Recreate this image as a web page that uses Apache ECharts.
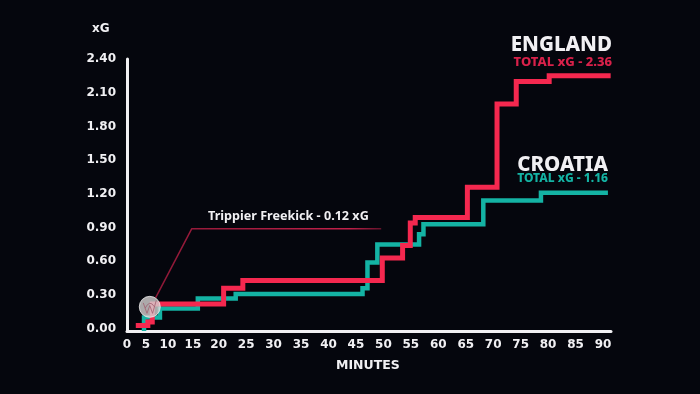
<!DOCTYPE html>
<html>
<head>
<meta charset="utf-8">
<style>
  html, body { margin: 0; padding: 0; background: #05060d; }
  #chart { width: 700px; height: 394px; }
</style>
<script src="https://cdn.jsdelivr.net/npm/echarts@6/dist/echarts.min.js"></script>
</head>
<body>
<div id="chart"></div>
<script>
// tick labels sit unevenly below 25 in the source, so positions and labels are separate
const xTickValues = [3.3, 6.75, 10.75, 15.3, 20, 25, 30, 35, 40, 45, 50, 55, 60, 65, 70, 75, 80, 85, 90]
const xTickLabels = ['0', '5', '10', '15', '20', '25', '30', '35', '40', '45', '50', '55', '60', '65', '70', '75', '80', '85', '90']
const yTickValues = [0, 0.3, 0.6, 0.9, 1.2, 1.5, 1.8, 2.1, 2.4]

const englandMinutes = [4.9, 7.1, 7.9, 20.9, 24.4, 49.8, 53.5, 54.9, 55.8, 65.3, 70.7, 74.2, 80.2, 91.4]
const englandXg = [0.03, 0.06, 0.22, 0.36, 0.43, 0.63, 0.74, 0.94, 0.99, 1.26, 2.0, 2.2, 2.25, 2.25]

const croatiaMinutes = [6.4, 6.4, 9.3, 16.2, 23.1, 46.2, 47.1, 48.9, 56.5, 57.3, 68.2, 78.7, 90.9]
const croatiaXg = [-0.02, 0.1, 0.18, 0.27, 0.31, 0.36, 0.59, 0.75, 0.84, 0.93, 1.14, 1.21, 1.21]

const leaderMinutes = [8.5, 15.1, 49.6]
const leaderXg = [0.275, 0.89, 0.89]
const freekick = [7.45, 0.195]

const zip = (xs, ys) => xs.map((x, i) => [x, ys[i]])
const font = '"Noto Sans", sans-serif'
const tickFont = '"DejaVu Sans", sans-serif'
const white = '#f1f0f3'
const red = '#f5284f'
const teal = '#14b3a4'

const chart = echarts.init(document.getElementById('chart'))
chart.setOption({
  backgroundColor: '#05060d',
  animation: false,
  grid: { left: 127, right: 89, top: 59, bottom: 63 },
  xAxis: {
    type: 'value',
    min: 3.3,
    max: 91.46,
    splitLine: { show: false },
    axisTick: { show: false },
    axisLine: { onZero: false, lineStyle: { color: white, width: 3 } },
    axisLabel: {
      customValues: xTickValues,
      formatter: (v) => xTickLabels[xTickValues.indexOf(v)],
      color: white,
      fontFamily: tickFont,
      fontWeight: 'bold',
      fontSize: 12,
      margin: 8,
    },
  },
  yAxis: {
    type: 'value',
    min: -0.02,
    max: 2.4,
    splitLine: { show: false },
    axisTick: { show: false },
    axisLine: { onZero: false, lineStyle: { color: white, width: 3 } },
    axisLabel: {
      customValues: yTickValues,
      formatter: (v) => v.toFixed(2),
      color: white,
      fontFamily: tickFont,
      fontWeight: 'bold',
      fontSize: 12,
      margin: 11,
    },
  },
  series: [
    {
      type: 'line',
      data: zip(leaderMinutes, leaderXg),
      symbol: 'none',
      z: 1,
      lineStyle: {
        width: 1.5,
        color: {
          type: 'linear', x: 0, y: 0, x2: 1, y2: 0,
          colorStops: [
            { offset: 0, color: '#8c1836' },
            { offset: 0.85, color: '#c2204a' },
            { offset: 1, color: '#5c1229' },
          ],
        },
      },
    },
    {
      type: 'line',
      step: 'end',
      data: zip(croatiaMinutes, croatiaXg),
      symbol: 'none',
      z: 2,
      lineStyle: { width: 4.5, color: teal, join: 'miter', cap: 'butt' },
    },
    {
      type: 'line',
      step: 'end',
      data: zip(englandMinutes, englandXg),
      symbol: 'none',
      z: 3,
      lineStyle: { width: 5, color: red, join: 'miter', cap: 'butt' },
    },
    {
      type: 'scatter',
      data: [freekick],
      symbol: 'circle',
      symbolSize: 21,
      z: 4,
      itemStyle: { color: '#d6d2d2', borderColor: '#f0eeee', borderWidth: 1 },
    },
    {
      // swirl on the ball
      type: 'scatter',
      data: [freekick],
      symbol: 'path://M0 2 L4 10 L7 4 L10 10 L14 0 M2 6 Q7 -1 12 5',
      symbolSize: 13,
      z: 5,
      itemStyle: { color: 'none', borderColor: '#a06070', borderWidth: 1 },
    },
  ],
  graphic: [
    { type: 'text', left: 92, top: 23, style: { text: 'xG', fill: white, font: 'bold 12px ' + tickFont } },
    { type: 'text', left: 336, top: 359, style: { text: 'MINUTES', fill: white, font: 'bold 12.5px ' + tickFont } },
    { type: 'text', left: 208, top: 210, style: { text: 'Trippier Freekick - 0.12 xG', fill: white, font: '700 12.6px ' + font } },
    { type: 'text', right: 88, top: 35, style: { text: 'ENGLAND', fill: white, font: '800 20.5px ' + font } },
    { type: 'text', right: 88, top: 56, style: { text: 'TOTAL xG - 2.36', fill: '#d9214a', font: '800 13px ' + font } },
    { type: 'text', right: 92, top: 155, style: { text: 'CROATIA', fill: white, font: '800 20.5px ' + font } },
    { type: 'text', right: 92, top: 173, style: { text: 'TOTAL xG - 1.16', fill: teal, font: '800 12px ' + font } },
  ],
})
</script>
</body>
</html>
